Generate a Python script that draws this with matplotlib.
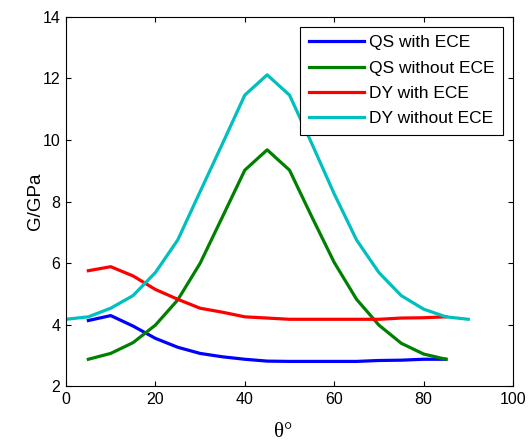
import matplotlib
matplotlib.use("Agg")
import matplotlib.pyplot as plt

plt.rcParams['font.family'] = ['Liberation Sans', 'DejaVu Sans']

theta = [5, 10, 15, 20, 25, 30, 35, 40, 45, 50, 55, 60, 65, 70, 75, 80, 85]
theta_dy = [0, 5, 10, 15, 20, 25, 30, 35, 40, 45, 50, 55, 60, 65, 70, 75, 80, 85, 90]

qs_ece = [4.13, 4.29, 3.95, 3.55, 3.26, 3.06, 2.95, 2.87, 2.81, 2.80, 2.80, 2.80, 2.80, 2.83, 2.84, 2.87, 2.87]
qs_no = [2.87, 3.06, 3.41, 3.98, 4.80, 5.99, 7.50, 9.02, 9.68, 9.02, 7.50, 6.02, 4.82, 3.98, 3.39, 3.04, 2.87]
dy_ece = [5.75, 5.88, 5.58, 5.14, 4.82, 4.53, 4.40, 4.25, 4.21, 4.17, 4.17, 4.17, 4.17, 4.17, 4.21, 4.22, 4.25]
dy_no = [4.17, 4.25, 4.53, 4.94, 5.69, 6.75, 8.32, 9.88, 11.46, 12.12, 11.46, 9.88, 8.25, 6.75, 5.69, 4.94, 4.50, 4.25, 4.17]

fig = plt.figure(figsize=(5.28, 4.46), dpi=100)
ax = fig.add_axes([0.125, 0.1345, 0.8466, 0.8274])

lw = 2.3
ax.plot(theta, qs_ece, color=(0, 0, 1), lw=lw, label='QS with ECE')
ax.plot(theta, qs_no, color=(0, 0.5, 0), lw=lw, label='QS without ECE')
ax.plot(theta, dy_ece, color=(1, 0, 0), lw=lw, label='DY with ECE')
ax.plot(theta_dy, dy_no, color=(0, 0.75, 0.75), lw=lw, label='DY without ECE')

ax.set_xlim(0, 100)
ax.set_ylim(2, 14)
ax.set_xticks([0, 20, 40, 60, 80, 100])
ax.set_yticks([2, 4, 6, 8, 10, 12, 14])
ax.tick_params(direction='in', top=True, right=True, labelsize=11.5, length=3.5)
ax.tick_params(axis='x', pad=4.5)
ax.tick_params(axis='y', pad=4)
for s in ax.spines.values():
    s.set_linewidth(0.8)

ax.set_ylabel('G/GPa', fontsize=13.5)
ax.yaxis.set_label_coords(-0.05, 0.5)
ax.set_xlabel('θ°', fontsize=15, family=['Liberation Serif', 'DejaVu Serif'])
ax.xaxis.set_label_coords(0.485, -0.10)

leg = ax.legend(loc='upper right', fontsize=12.5, fancybox=False, framealpha=1,
                edgecolor='black', handlelength=3.2, handletextpad=0.3,
                labelspacing=0.58, borderpad=0.5, borderaxespad=0.55)
leg.get_frame().set_linewidth(0.8)

fig.savefig('out.png', dpi=100)
